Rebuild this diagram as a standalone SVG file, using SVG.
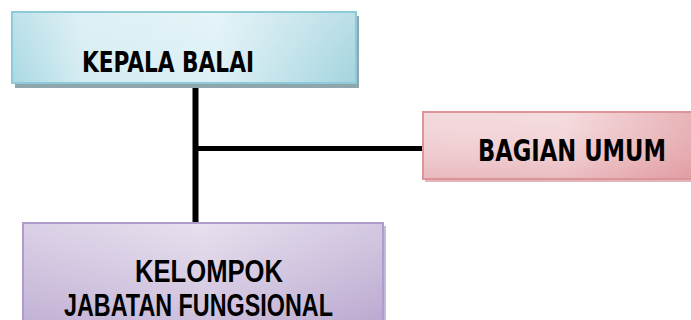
<svg xmlns="http://www.w3.org/2000/svg" width="691" height="320" viewBox="0 0 691 320">
  <style>
    .lbl { font-family: "DejaVu Sans", "Liberation Sans", sans-serif; font-weight: bold; fill: #000; font-stretch: condensed; }
    .lbl2 { font-family: "Liberation Sans", Arial, sans-serif; font-weight: bold; fill: #000; }
    .conn { stroke: #000; fill: none; }
  </style>
  <defs>
    <linearGradient id="gBlue" x1="0" y1="0" x2="1" y2="0">
      <stop offset="0" stop-color="#a9d8e3"/>
      <stop offset="0.2" stop-color="#d4ecf2"/>
      <stop offset="0.6" stop-color="#dcf0f5"/>
      <stop offset="1" stop-color="#a4d4df"/>
    </linearGradient>
    <linearGradient id="gBlueV" x1="0" y1="0" x2="0" y2="1">
      <stop offset="0" stop-color="#ffffff" stop-opacity="0.25"/>
      <stop offset="1" stop-color="#ffffff" stop-opacity="0"/>
    </linearGradient>
    <linearGradient id="gPink" x1="0" y1="0" x2="1" y2="0">
      <stop offset="0" stop-color="#f1d2d6"/>
      <stop offset="0.5" stop-color="#f3d6d9"/>
      <stop offset="1" stop-color="#e3a1a6"/>
    </linearGradient>
    <linearGradient id="gPinkV" x1="0" y1="0" x2="0" y2="1">
      <stop offset="0" stop-color="#ffffff" stop-opacity="0.15"/>
      <stop offset="1" stop-color="#d98d94" stop-opacity="0.35"/>
    </linearGradient>
    <linearGradient id="gPurple" x1="0" y1="0" x2="1" y2="0">
      <stop offset="0" stop-color="#cbbcdb"/>
      <stop offset="0.5" stop-color="#ddd3e7"/>
      <stop offset="1" stop-color="#c0b0d4"/>
    </linearGradient>
    <linearGradient id="gPurpleV" x1="0" y1="0" x2="0" y2="1">
      <stop offset="0" stop-color="#ffffff" stop-opacity="0.3"/>
      <stop offset="1" stop-color="#a993c4" stop-opacity="0.35"/>
    </linearGradient>
  </defs>

  <g id="connectors">
    <line class="conn" x1="195.5" y1="83" x2="195.5" y2="224" stroke-width="6"/>
    <line class="conn" x1="198" y1="148.5" x2="423" y2="148.5" stroke-width="5"/>
  </g>

  <g id="kepala-balai">
    <rect x="15" y="16" width="344" height="72" fill="#8fa7ac"/>
    <rect x="12" y="12" width="344" height="71" fill="url(#gBlue)" stroke="#8ecbd8" stroke-width="2"/>
    <rect x="13" y="13" width="342" height="69" fill="url(#gBlueV)"/>
    <text class="lbl" x="82" y="72" font-size="28" textLength="172" lengthAdjust="spacingAndGlyphs">KEPALA BALAI</text>
  </g>

  <g id="bagian-umum">
    <rect x="425" y="114" width="280" height="68" fill="#e0b6ba"/>
    <rect x="423" y="112" width="280" height="67" fill="url(#gPink)" stroke="#dc9499" stroke-width="2"/>
    <rect x="424" y="113" width="278" height="65" fill="url(#gPinkV)"/>
    <text class="lbl" x="478" y="161" font-size="31" textLength="188" lengthAdjust="spacingAndGlyphs">BAGIAN UMUM</text>
  </g>

  <g id="kelompok-jabatan-fungsional">
    <rect x="26" y="226" width="360" height="110" fill="#c6b8d8"/>
    <rect x="23" y="223" width="360" height="110" fill="url(#gPurple)" stroke="#b09dcb" stroke-width="2"/>
    <rect x="24" y="224" width="358" height="108" fill="url(#gPurpleV)"/>
    <text class="lbl2" x="135" y="282" font-size="31" textLength="148" lengthAdjust="spacingAndGlyphs">KELOMPOK</text>
    <text class="lbl2" x="64" y="316" font-size="31" textLength="269" lengthAdjust="spacingAndGlyphs">JABATAN FUNGSIONAL</text>
  </g>
</svg>
